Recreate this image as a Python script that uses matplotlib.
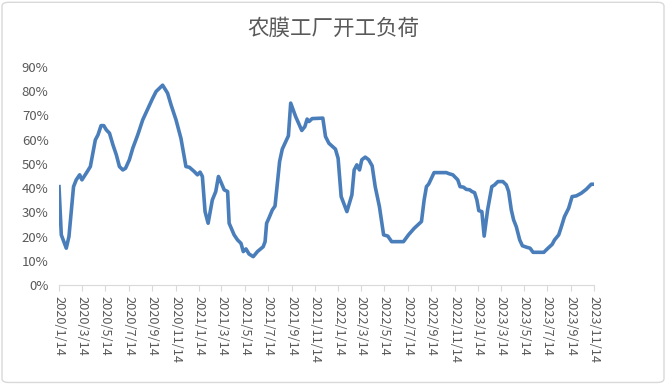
import matplotlib
matplotlib.use("Agg")
import matplotlib.pyplot as plt
from matplotlib.patches import FancyBboxPatch
import pandas as pd

plt.rcParams['font.family'] = ['Noto Sans CJK SC', 'DejaVu Sans']

title = "农膜工厂开工负荷"

# 周度开工负荷（%），读自原图
dates = [
    # 2020
    "2020-01-14", "2020-01-20", "2020-02-02", "2020-02-09", "2020-02-21", "2020-02-28",
    "2020-03-08", "2020-03-14", "2020-03-25", "2020-04-05", "2020-04-18", "2020-04-25",
    "2020-05-03", "2020-05-10", "2020-05-17", "2020-05-25", "2020-06-03", "2020-06-12",
    "2020-06-20", "2020-06-29", "2020-07-06", "2020-07-16", "2020-07-25", "2020-08-07",
    "2020-08-20", "2020-09-07", "2020-09-15", "2020-09-24", "2020-10-11", "2020-10-24",
    "2020-11-02", "2020-11-15", "2020-11-28", "2020-12-11", "2020-12-20",
    # 2021
    "2021-01-02", "2021-01-10", "2021-01-17", "2021-01-23", "2021-01-30", "2021-02-07",
    "2021-02-18", "2021-02-27", "2021-03-06", "2021-03-12", "2021-03-21", "2021-03-30",
    "2021-04-03", "2021-04-16", "2021-04-25", "2021-05-04", "2021-05-10", "2021-05-17",
    "2021-05-25", "2021-06-05", "2021-06-16", "2021-07-01", "2021-07-06", "2021-07-10",
    "2021-07-16", "2021-07-25", "2021-08-01", "2021-08-07", "2021-08-13", "2021-08-20",
    "2021-08-29", "2021-09-05", "2021-09-11", "2021-09-24", "2021-10-10", "2021-10-18",
    "2021-10-24", "2021-10-29", "2021-11-06", "2021-12-04", "2021-12-11", "2021-12-20",
    # 2022
    "2022-01-06", "2022-01-13", "2022-01-21", "2022-02-05", "2022-02-18", "2022-02-24",
    "2022-03-03", "2022-03-10", "2022-03-16", "2022-03-25", "2022-04-03", "2022-04-12",
    "2022-04-20", "2022-05-01", "2022-05-12", "2022-05-23", "2022-06-02", "2022-07-03",
    "2022-07-16", "2022-07-31", "2022-08-19", "2022-08-26", "2022-09-01", "2022-09-07",
    "2022-09-21", "2022-10-23", "2022-10-31", "2022-11-09", "2022-11-22", "2022-11-28",
    "2022-12-07", "2022-12-14", "2022-12-23", "2022-12-29",
    # 2023
    "2023-01-05", "2023-01-11", "2023-01-16", "2023-01-24", "2023-01-30", "2023-02-08",
    "2023-02-19", "2023-02-26", "2023-03-07", "2023-03-20", "2023-03-29", "2023-04-04",
    "2023-04-11", "2023-04-17", "2023-04-24", "2023-05-03", "2023-05-10", "2023-05-21",
    "2023-05-30", "2023-06-07", "2023-07-05", "2023-07-16", "2023-07-27", "2023-08-02",
    "2023-08-13", "2023-08-20", "2023-08-28", "2023-09-08", "2023-09-17", "2023-09-28",
    "2023-10-11", "2023-10-24", "2023-11-06", "2023-11-14",
]

values = [
    # 2020
    40.6, 20.7, 15.2, 20.0, 40.6, 43.4,
    45.5, 43.4, 46.1, 48.9, 59.9, 62.0,
    65.8, 65.8, 64.0, 62.7, 57.9, 53.7,
    48.9, 47.5, 48.2, 51.7, 56.5, 62.0,
    68.2, 74.4, 77.1, 79.9, 82.5, 79.2,
    74.4, 68.2, 60.5, 48.9, 48.6,
    # 2021
    46.8, 45.5, 46.6, 44.8, 30.3, 25.5,
    35.1, 38.6, 44.8, 42.7, 39.3, 38.6,
    25.5, 20.7, 18.6, 17.2, 13.8, 14.9,
    12.8, 11.7, 13.8, 15.8, 17.9, 25.5,
    27.6, 31.0, 32.6, 42.0, 51.0, 56.1,
    59.2, 61.6, 75.1, 69.5, 63.8, 65.4,
    68.5, 67.5, 68.7, 68.9, 61.3, 58.5,
    # 2022
    56.1, 52.3, 36.5, 30.3, 37.2, 47.5,
    49.6, 47.5, 51.7, 52.8, 51.7, 49.2,
    40.6, 32.4, 20.7, 20.2, 17.9, 17.9,
    20.7, 23.4, 26.2, 35.1, 40.6, 41.7,
    46.4, 46.4, 45.9, 45.5, 43.4, 40.6,
    40.4, 39.5, 39.3, 38.6,
    # 2023
    38.1, 35.1, 30.7, 30.3, 20.2, 31.0,
    40.6, 41.3, 42.7, 42.7, 41.3, 38.6,
    31.0, 26.9, 24.1, 18.6, 16.2, 15.6,
    15.2, 13.5, 13.5, 15.2, 16.8, 18.6,
    20.7, 24.1, 28.2, 31.7, 36.5, 36.8,
    37.9, 39.5, 41.6, 41.6,
]

y_ticks = [0, 10, 20, 30, 40, 50, 60, 70, 80, 90]
x_ticks = pd.date_range("2020-01-01", "2023-11-30", freq="2MS") + pd.Timedelta(days=13)

x = pd.to_datetime(dates)

fig = plt.figure(figsize=(6.66, 3.84), dpi=100)
ax = fig.add_axes([0.0886, 0.2578, 0.8037, 0.5677])

ax.plot(x, values, color='#4a7ebb', linewidth=2.6, solid_joinstyle='round')

ax.set_xlim(pd.Timestamp("2020-01-14"), pd.Timestamp("2023-11-14"))
ax.set_ylim(0, 90)
ax.set_yticks(y_ticks)
ax.set_yticklabels([f"{v}%" for v in y_ticks], color='#595959', fontsize=9.5)
ax.set_xticks(x_ticks)
ax.set_xticklabels([f"{d.year}/{d.month}/{d.day}" for d in x_ticks],
                   rotation=270, color='#595959', fontsize=9.2, va='top', ha='center')

for s in ['top', 'right', 'left']:
    ax.spines[s].set_visible(False)
ax.spines['bottom'].set_color('#d9d9d9')
ax.tick_params(axis='y', length=0, pad=7.5)
ax.tick_params(axis='x', length=4, color='#d9d9d9', direction='out', pad=4)

fig.text(0.5, 0.925, title, ha='center', va='center', fontsize=15.5,
         color='#595959', fontweight='light')

border = FancyBboxPatch((0.003, 0.004), 0.994, 0.99, boxstyle="round,pad=0,rounding_size=0.01",
                        transform=fig.transFigure, fill=False, edgecolor='#d9d9d9', linewidth=1)
fig.patches.append(border)

fig.savefig("out.png", dpi=100)
